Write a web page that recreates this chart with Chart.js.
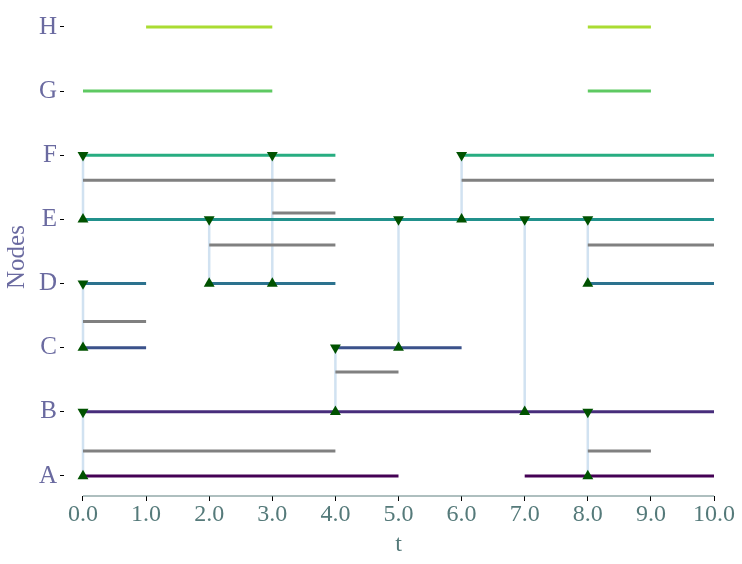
<!DOCTYPE html>
<html>
<head>
<meta charset="utf-8">
<script src="https://cdn.jsdelivr.net/npm/chart.js@4.4.1/dist/chart.umd.min.js"></script>
<style>
  body { margin: 0; background: #fff; }
  #wrap { width: 742px; height: 564px; }
</style>
</head>
<body>
<div id="wrap"><canvas id="chart" width="742" height="564"></canvas></div>
<script>
// Nodos y tiempos
const nodes = ['A', 'B', 'C', 'D', 'E', 'F', 'G', 'H'];
const tTicks = [0, 1, 2, 3, 4, 5, 6, 7, 8, 9, 10];

// Intervalos activos de cada nodo [inicio, fin]
const spansA = [[0, 5], [7, 10]];
const spansB = [[0, 10]];
const spansC = [[0, 1], [4, 6]];
const spansD = [[0, 1], [2, 4], [8, 10]];
const spansE = [[0, 10]];
const spansF = [[0, 4], [6, 10]];
const spansG = [[0, 3], [8, 9]];
const spansH = [[1, 3], [8, 9]];
const nodeSpans = [spansA, spansB, spansC, spansD, spansE, spansF, spansG, spansH];

// Aristas (líneas grises): nivel entre nodos e intervalos
const edgeLevels = [0.39, 1.62, 2.41, 3.6, 4.61, 4.1];
const edgeSpans = [
  [[0, 4], [8, 9]],
  [[4, 5]],
  [[0, 1]],
  [[2, 4], [8, 10]],
  [[0, 4], [6, 10]],
  [[3, 4]]
];

// Eventos: tiempo, nodo de arriba (▼) y nodo de abajo (▲)
const eventT = [0, 0, 0, 2, 3, 4, 5, 6, 7, 8, 8];
const eventTop = ['F', 'D', 'B', 'E', 'F', 'C', 'E', 'F', 'E', 'E', 'B'];
const eventBottom = ['E', 'C', 'A', 'D', 'D', 'B', 'C', 'E', 'B', 'D', 'A'];

const nodeColors = ['#440154', '#472d7b', '#3b528b', '#2c728e', '#21918c', '#27ad81', '#5ec962', '#aadc32'];

// Convertir intervalos en puntos con cortes (null)
function spansToPoints(spans, y) {
  const pts = [];
  spans.forEach(s => {
    pts.push({ x: s[0], y: y });
    pts.push({ x: s[1], y: y });
    pts.push({ x: s[1], y: null });
  });
  return pts;
}

const datasets = [];

// Líneas verticales de los eventos
const vertPts = [];
eventT.forEach((t, i) => {
  vertPts.push({ x: t, y: nodes.indexOf(eventTop[i]) });
  vertPts.push({ x: t, y: nodes.indexOf(eventBottom[i]) });
  vertPts.push({ x: t, y: null });
});
datasets.push({ data: vertPts, borderColor: 'rgba(190,213,235,0.7)', borderWidth: 2.5 });

// Aristas grises
edgeLevels.forEach((lv, i) => {
  datasets.push({ data: spansToPoints(edgeSpans[i], lv), borderColor: '#808080', borderWidth: 3 });
});

// Líneas de los nodos
nodeSpans.forEach((sp, i) => {
  datasets.push({ data: spansToPoints(sp, i), borderColor: nodeColors[i], borderWidth: 3 });
});

// Marcadores
datasets.push({
  type: 'scatter',
  data: eventT.map((t, i) => ({ x: t, y: nodes.indexOf(eventBottom[i]) })),
  pointStyle: 'triangle', pointRadius: 6.3, pointBackgroundColor: '#005200', pointBorderColor: '#005200', pointBorderWidth: 0
});
datasets.push({
  type: 'scatter',
  data: eventT.map((t, i) => ({ x: t, y: nodes.indexOf(eventTop[i]) })),
  pointStyle: 'triangle', pointRotation: 180, pointRadius: 6.3, pointBackgroundColor: '#005200', pointBorderColor: '#005200', pointBorderWidth: 0
});

// El primero se dibuja detrás
datasets.forEach((d, i) => { d.order = datasets.length - i; });

// Eje x recortado de 0 a 10
const spinePlugin = {
  id: 'spine',
  beforeDatasetsDraw(chart) {
    const ctx = chart.ctx;
    const xs = chart.scales.x;
    const y = chart.chartArea.bottom;
    ctx.save();
    ctx.strokeStyle = '#5f8080';
    ctx.lineWidth = 1.2;
    ctx.beginPath();
    ctx.moveTo(xs.getPixelForValue(tTicks[0]), y);
    ctx.lineTo(xs.getPixelForValue(tTicks[tTicks.length - 1]), y);
    ctx.stroke();
    ctx.restore();
  }
};

const serif = '"Liberation Serif", "DejaVu Serif", serif';

new Chart(document.getElementById('chart'), {
  type: 'line',
  data: { datasets: datasets },
  plugins: [spinePlugin],
  options: {
    responsive: false,
    animation: false,
    spanGaps: false,
    layout: { padding: { top: 9, right: 9, left: 0, bottom: 0 } },
    elements: { point: { radius: 0 }, line: { tension: 0, borderCapStyle: 'butt' } },
    plugins: { legend: { display: false }, tooltip: { enabled: false } },
    scales: {
      x: {
        type: 'linear',
        min: -0.301,
        max: 10.301,
        afterBuildTicks: s => { s.ticks = tTicks.map(v => ({ value: v })); },
        afterFit: s => { s.height = 68; },
        border: { display: false },
        grid: { drawOnChartArea: false, drawTicks: true, tickLength: 5, color: '#000' },
        ticks: { padding: -1, color: '#557a7a', font: { family: serif, size: 24 }, callback: v => v.toFixed(1), maxRotation: 0, autoSkip: false },
        title: { display: true, text: 't', color: '#557a7a', font: { family: serif, size: 24 }, padding: { bottom: 5 } }
      },
      y: {
        type: 'linear',
        min: -0.312,
        max: 7.14,
        afterBuildTicks: s => { s.ticks = nodes.map((n, i) => ({ value: i })); },
        afterFit: s => { s.width = 64; },
        border: { display: false },
        grid: { drawOnChartArea: false, drawTicks: true, tickLength: 4, color: '#000' },
        ticks: { padding: 3, color: '#6a6aa0', font: { family: serif, size: 25 }, callback: v => nodes[v], autoSkip: false },
        title: { display: true, text: 'Nodes', color: '#6a6aa0', font: { family: serif, size: 25 }, padding: { top: 2 } }
      }
    }
  }
});
</script>
</body>
</html>
